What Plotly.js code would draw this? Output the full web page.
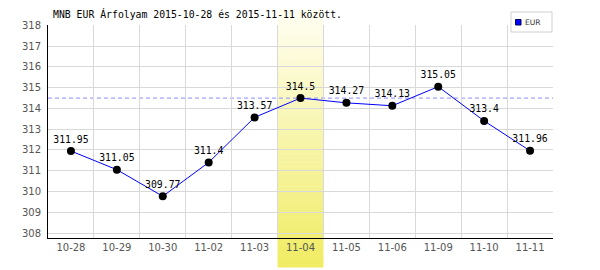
<!DOCTYPE html>
<html>
<head>
<meta charset="utf-8">
<script src="https://cdn.plot.ly/plotly-3.0.1.min.js"></script>
<style>html,body{margin:0;padding:0;background:#fff;}#chart{width:600px;height:270px;}</style>
</head>
<body>
<div id="chart"></div>
<script>
const categories = ["10-28","10-29","10-30","11-02","11-03","11-04","11-05","11-06","11-09","11-10","11-11"];
const values = [311.95, 311.05, 309.77, 311.4, 313.57, 314.5, 314.27, 314.13, 315.05, 313.4, 311.96];
const valueLabels = ["311.95","311.05","309.77","311.4","313.57","314.5","314.27","314.13","315.05","313.4","311.96"];
const seriesName = "EUR";
const highlightCategory = "11-04";
const titleText = "MNB EUR Árfolyam 2015-10-28 és 2015-11-11 között.";

const hIdx = categories.indexOf(highlightCategory);

// Plot geometry (pixels)
const W = 600, H = 270, mL = 48, mR = 47, mT = 25, mB = 32;
const plotH = H - mT - mB;
const pyToPaper = py => (H - mB - py) / plotH;
const pxToPaper = px => (px - mL) / (W - mL - mR);

// gradient highlight band as stacked strips
const shapes = [];
const bandTop = 9, bandBot = 267, N = 64;
const cTop = [255, 254, 244], cBot = [240, 236, 98];
for (let i = 0; i < N; i++) {
  const t = (i + 0.5) / N;
  const c = cTop.map((v, k) => Math.round(v + (cBot[k] - v) * t));
  const yTop = bandTop + (bandBot - bandTop) * i / N;
  const yBot = bandTop + (bandBot - bandTop) * (i + 1) / N;
  shapes.push({
    type: 'rect', layer: 'between', xref: 'x', yref: 'paper',
    x0: hIdx - 0.5, x1: hIdx + 0.5,
    y0: pyToPaper(yBot) - 0.002, y1: pyToPaper(yTop),
    fillcolor: 'rgb(' + c.join(',') + ')', line: {width: 0}
  });
}
// reference dashed line at highlighted value
shapes.push({
  type: 'line', layer: 'between', xref: 'paper', yref: 'y',
  x0: 0, x1: 1, y0: values[hIdx], y1: values[hIdx],
  line: {color: '#8c8cff', width: 1, dash: '4px,3px'}
});
// manual legend box
shapes.push({
  type: 'rect', xref: 'paper', yref: 'paper',
  x0: pxToPaper(511), x1: pxToPaper(552), y0: pyToPaper(32), y1: pyToPaper(12),
  fillcolor: '#ffffff', line: {color: '#d0d0d0', width: 1}
});
shapes.push({
  type: 'rect', xref: 'paper', yref: 'paper',
  x0: pxToPaper(515.5), x1: pxToPaper(521), y0: pyToPaper(25), y1: pyToPaper(19.5),
  fillcolor: '#0000ff', line: {color: '#000060', width: 1}
});

const trace = {
  type: 'scatter', mode: 'lines+markers+text',
  x: categories, y: values, name: seriesName,
  text: valueLabels, textposition: 'top center',
  textfont: {family: 'DejaVu Sans Mono, monospace', size: 9.8, color: '#000'},
  line: {color: '#0000ff', width: 1},
  marker: {color: '#000', size: 8},
  cliponaxis: false, hoverinfo: 'skip'
};

const layout = {
  width: W, height: H,
  margin: {l: mL, r: mR, t: mT, b: mB, pad: 0},
  paper_bgcolor: '#fff', plot_bgcolor: 'rgba(0,0,0,0)',
  showlegend: false,
  title: {
    text: titleText, x: 53 / W, xanchor: 'left', xref: 'container',
    y: 1 - 15 / H, yanchor: 'middle', yref: 'container',
    font: {family: 'DejaVu Sans Mono, monospace', size: 9.8, color: '#000'}
  },
  xaxis: {
    type: 'category', range: [-0.5, categories.length - 0.5],
    tickson: 'boundaries', ticks: '', showgrid: true, gridcolor: '#d9d9d9', gridwidth: 1,
    showline: true, linecolor: '#000', linewidth: 1,
    tickfont: {family: 'DejaVu Sans', size: 10, color: '#555'},
    zeroline: false, fixedrange: true
  },
  yaxis: {
    range: [307.76, 318.02], dtick: 1, tick0: 308, ticks: '',
    showgrid: true, gridcolor: '#d9d9d9', gridwidth: 1,
    showline: true, linecolor: '#000', linewidth: 1,
    tickfont: {family: 'DejaVu Sans', size: 10, color: '#555'},
    ticklabelstandoff: 4,
    zeroline: false, fixedrange: true
  },
  shapes: shapes,
  annotations: [{
    xref: 'paper', yref: 'paper', x: pxToPaper(522.5), y: pyToPaper(22.3),
    xanchor: 'left', yanchor: 'middle', showarrow: false, text: seriesName,
    font: {family: 'DejaVu Sans', size: 7.6, color: '#333'}
  }]
};

Plotly.newPlot('chart', [trace], layout, {displayModeBar: false, staticPlot: true});
</script>
</body>
</html>
